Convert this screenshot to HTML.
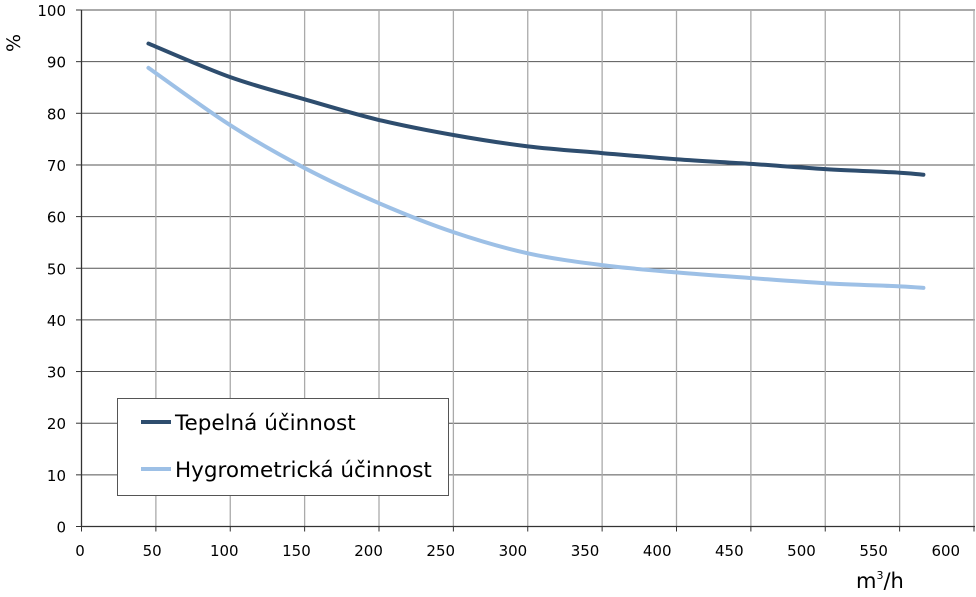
<!DOCTYPE html>
<html><head><meta charset="utf-8"><style>
html,body{margin:0;padding:0;background:#fff;}
svg{display:block;font-family:"DejaVu Sans","Liberation Sans",sans-serif;}
</style></head><body>
<svg id="chart" width="976" height="597" viewBox="0 0 976 597" xmlns="http://www.w3.org/2000/svg">
<g id="grid"></g><g id="axes"></g><g id="series"></g>
<text x="0" y="0" font-size="19" fill="#000" transform="translate(20,52) rotate(-90)">%</text>
<text x="856" y="588" font-size="21" fill="#000">m<tspan font-size="11" dy="-9">3</tspan><tspan dy="9">/h</tspan></text>
<g>
<rect x="117.5" y="398.5" width="331" height="97" fill="#fff" stroke="#555" stroke-width="1"/>
<line x1="141" y1="422" x2="171" y2="422" stroke="#2e4d6e" stroke-width="4"/>
<text x="175" y="430" font-size="21.5" fill="#000">Tepelná účinnost</text>
<line x1="141" y1="469" x2="171" y2="469" stroke="#9dc0e6" stroke-width="4"/>
<text x="175" y="477" font-size="21.5" fill="#000">Hygrometrická účinnost</text>
</g>
</svg>
<script>
const xTicks=[0,50,100,150,200,250,300,350,400,450,500,550,600];
const yTicks=[0,10,20,30,40,50,60,70,80,90,100];
const flowX=[45,100,150,200,250,300,350,400,450,500,550,566];
const tepelna=[93.5,87,82.7,78.7,75.8,73.6,72.3,71.1,70.2,69.2,68.5,68.1];
const hygro=[88.8,77.7,69.4,62.6,57,52.9,50.6,49.2,48.1,47.1,46.5,46.2];
const NS="http://www.w3.org/2000/svg";
const X=v=>81.5+v*(974-81.5)/600;
const XL=v=>80+v*1.443;
const Y=v=>526.5-v*(516.5/100);
function mk(tag,attrs,parent){const e=document.createElementNS(NS,tag);for(const k in attrs)e.setAttribute(k,attrs[k]);parent.appendChild(e);return e;}
const grid=document.getElementById('grid'),axes=document.getElementById('axes'),ser=document.getElementById('series');
yTicks.forEach(t=>{
 if(t>0){const l=mk('line',{x1:81.5,x2:975,y1:Y(t),y2:Y(t),stroke:'#555','stroke-width':1},grid);
 
 }
 const tk=mk('line',{x1:76,x2:81.5,y1:Y(t),y2:Y(t),stroke:'#333'},axes);
 
 
 const tx=mk('text',{x:66,y:Y(t)+6,'text-anchor':'end','font-size':15,fill:'#000'},axes);
 
 
 tx.textContent=t;
});
xTicks.forEach(t=>{
 if(t>0){const l=mk('line',{x1:X(t),x2:X(t),y1:Y(100),y2:Y(0),stroke:'#aaa','stroke-width':1.3},grid);
 
 }
 const tk=mk('line',{x1:X(t),x2:X(t),y1:Y(0),y2:Y(0)+5,stroke:'#333'},axes);
 
 
 const tx=mk('text',{x:XL(t),y:556,'text-anchor':'middle','font-size':15,fill:'#000'},axes);
 
 
 tx.textContent=t;
});
const ax=mk('line',{x1:81.5,x2:975,y1:Y(0),y2:Y(0),stroke:'#333','stroke-width':1.3},axes);


const ay=mk('line',{x1:81.5,x2:81.5,y1:Y(100),y2:Y(0),stroke:'#333','stroke-width':1.3},axes);


function path(vals){
 const p=flowX.map((x,i)=>[X(x),Y(vals[i])]);
 let d='M'+p[0][0]+','+p[0][1];
 for(let i=0;i<p.length-1;i++){
  const p0=p[i-1]||p[i],p1=p[i],p2=p[i+1],p3=p[i+2]||p2;
  const c1=[p1[0]+(p2[0]-p0[0])/6,p1[1]+(p2[1]-p0[1])/6];
  const c2=[p2[0]-(p3[0]-p1[0])/6,p2[1]-(p3[1]-p1[1])/6];
  d+=' C'+c1+' '+c2+' '+p2;
 }
 return d;
}
const s1=mk('path',{d:path(tepelna),fill:'none',stroke:'#2e4d6e','stroke-width':4,'stroke-linecap':'round'},ser);


const s2=mk('path',{d:path(hygro),fill:'none',stroke:'#9dc0e6','stroke-width':4,'stroke-linecap':'round'},ser);


</script>
</body></html>
